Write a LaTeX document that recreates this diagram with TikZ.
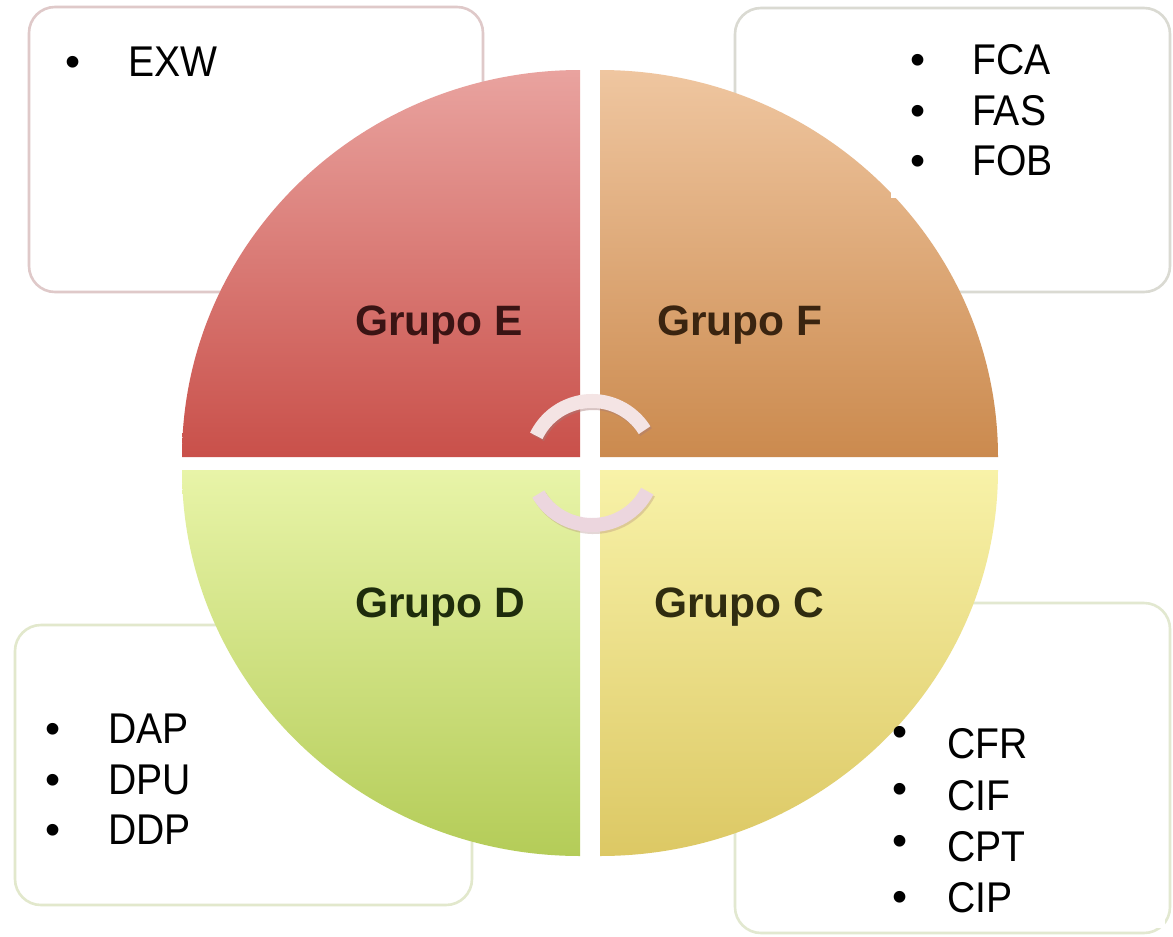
\documentclass[tikz,border=0pt]{standalone}
\usepackage{fontspec}
\setmainfont{Liberation Sans}
\newcommand{\narrow}[1]{\scalebox{0.91}[1]{#1}}
\begin{document}
\begin{tikzpicture}[x=1pt,y=-1pt,
  panel/.style={line width=2.6pt,rounded corners=26pt,fill=white},
  listtxt/.style={inner sep=0pt,anchor=base west,font=\fontsize{43}{50}\selectfont,text=black},
  bul/.style={inner sep=0pt,anchor=base,font=\fontsize{43}{50}\selectfont,text=black},
  grp/.style={inner sep=0pt,anchor=base,font=\fontsize{42.5}{48}\selectfont\bfseries},
  cover/.style={fill=white,draw=none},
  turn/.style={line width=14pt,line cap=butt}
]
\definecolor{bE}{HTML}{DFC9C9}
\definecolor{bF}{HTML}{DADAD2}
\definecolor{bD}{HTML}{E2E8CC}
\definecolor{bC}{HTML}{E2E8D0}
\definecolor{eTop}{HTML}{E9A39F}
\definecolor{eBot}{HTML}{C9504A}
\definecolor{fTop}{HTML}{EFC6A0}
\definecolor{fBot}{HTML}{CB8A4E}
\definecolor{dTop}{HTML}{E8F4A8}
\definecolor{dBot}{HTML}{B4CC58}
\definecolor{cTop}{HTML}{F8F2A8}
\definecolor{cBot}{HTML}{DCC864}
\definecolor{tE}{HTML}{3A1414}
\definecolor{tF}{HTML}{3A2410}
\definecolor{tD}{HTML}{1E2C0C}
\definecolor{tC}{HTML}{302C10}
\definecolor{arcA}{HTML}{F4E4E4}
\definecolor{arcB}{HTML}{ECD6DE}
\definecolor{arcS}{HTML}{A87C78}
\useasboundingbox (0,0) rectangle (1173,937);
\fill[white] (0,0) rectangle (1173,937);
% panels
\draw[panel,draw=bE] (29,7) rectangle (483,292);
\draw[panel,draw=bF] (735,8) rectangle (1170,292);
\draw[panel,draw=bD] (15,625) rectangle (472,905);
\draw[panel,draw=bC] (735,603) rectangle (1170,933);
% quadrants
\shade[top color=eTop,bottom color=eBot] (580,457) -- (182,457) arc (180:270:398 and 387) -- cycle;
\shade[top color=fTop,bottom color=fBot] (600,457) -- (600,70) arc (270:360:398 and 387) -- cycle;
\shade[top color=dTop,bottom color=dBot] (580,470) -- (182,470) arc (180:90:398 and 386) -- cycle;
\shade[top color=cTop,bottom color=cBot] (600,470) -- (998,470) arc (0:90:398 and 386) -- cycle;
% centre turning arrows
\coordinate (ctr) at (592,463);
\draw[turn,draw=arcS,opacity=0.45] ([shift={(1.5,2)}]ctr) ++(206:62) arc (206:328:62);
\draw[turn,draw=arcA] (ctr) ++(206:62) arc (206:328:62);
\draw[turn,draw=arcS,opacity=0.3] ([shift={(1.5,2)}]ctr) ++(150:62) arc (150:27:62);
\draw[turn,draw=arcB] (ctr) ++(150:62) arc (150:27:62);
% group labels
\node[grp,text=tE] (gE) at (439,335) {Grupo E};
\node[grp,text=tF] (gF) at (740,335) {Grupo F};
\node[grp,text=tD] (gD) at (440,617) {Grupo D};
\node[grp,text=tC] (gC) at (739,617) {Grupo C};
% white covers behind lists
\fill[cover] (891,40) rectangle (1165,198);
\fill[cover] (927,712) rectangle (1165,928);
% lists
\node[bul] (bE1) at (73,76) {•};
\node[listtxt] (lE1) at (128,76) {\narrow{EXW}};
\node[bul] (bF1) at (918,74) {•};
\node[listtxt] (lF1) at (972,74) {\narrow{FCA}};
\node[bul] (bF2) at (918,125) {•};
\node[listtxt] (lF2) at (972,125) {\narrow{FAS}};
\node[bul] (bF3) at (918,175) {•};
\node[listtxt] (lF3) at (972,175) {\narrow{FOB}};
\node[bul] (bD1) at (53,743) {•};
\node[listtxt] (lD1) at (108,743) {\narrow{DAP}};
\node[bul] (bD2) at (53,794) {•};
\node[listtxt] (lD2) at (108,794) {\narrow{DPU}};
\node[bul] (bD3) at (53,844) {•};
\node[listtxt] (lD3) at (108,844) {\narrow{DDP}};
\node[bul] (bC1) at (900,746) {•};
\node[listtxt] (lC1) at (947,758) {\narrow{CFR}};
\node[bul] (bC2) at (900,803) {•};
\node[listtxt] (lC2) at (947,810) {\narrow{CIF}};
\node[bul] (bC3) at (900,855) {•};
\node[listtxt] (lC3) at (947,861) {\narrow{CPT}};
\node[bul] (bC4) at (900,911) {•};
\node[listtxt] (lC4) at (947,912) {\narrow{CIP}};
\end{tikzpicture}
\end{document}
